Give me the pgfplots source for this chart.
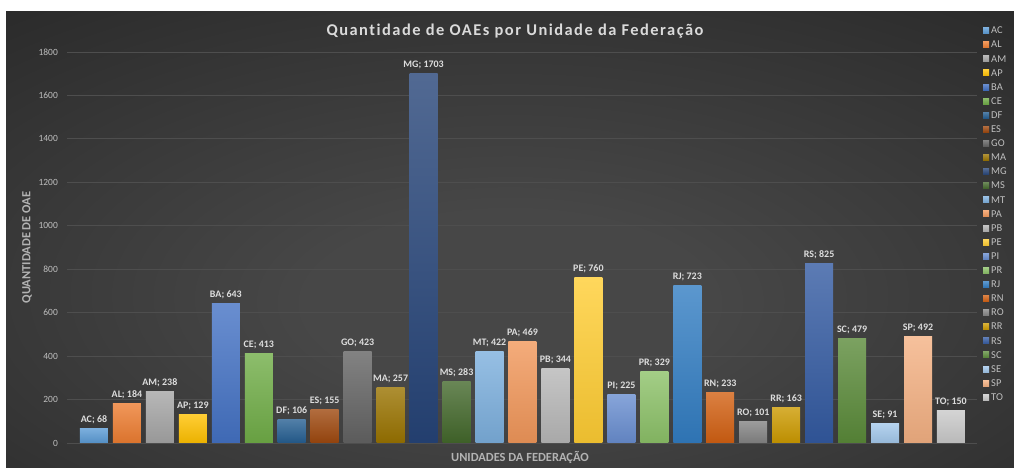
\documentclass[border=0pt]{standalone}
\usepackage{pgfplots}
\pgfplotsset{compat=1.18}
\usepackage{fontspec}
\setmainfont{Carlito}
\newfontfamily\titlefont[LetterSpace=9,Ligatures=NoCommon]{Carlito}
\definecolor{bgin}{HTML}{474747}
\definecolor{bgout}{HTML}{222222}
\definecolor{gridc}{HTML}{4E4E4E}
\definecolor{tickc}{HTML}{BFBFBF}
\definecolor{labc}{HTML}{B3B3B3}
\definecolor{datac}{HTML}{DDDDDD}
\definecolor{titc}{HTML}{DADADA}
\definecolor{cAC}{HTML}{5B9BD5}
\definecolor{cAL}{HTML}{ED7D31}
\definecolor{cAM}{HTML}{A5A5A5}
\definecolor{cAP}{HTML}{FFC000}
\definecolor{cBA}{HTML}{4472C4}
\definecolor{cCE}{HTML}{70AD47}
\definecolor{cDF}{HTML}{255E91}
\definecolor{cES}{HTML}{9E480E}
\definecolor{cGO}{HTML}{636363}
\definecolor{cMA}{HTML}{997300}
\definecolor{cMG}{HTML}{264478}
\definecolor{cMS}{HTML}{43682B}
\definecolor{cMT}{HTML}{7CAFDD}
\definecolor{cPA}{HTML}{F1975A}
\definecolor{cPB}{HTML}{B7B7B7}
\definecolor{cPE}{HTML}{FFCD33}
\definecolor{cPI}{HTML}{698ED0}
\definecolor{cPR}{HTML}{8CC168}
\definecolor{cRJ}{HTML}{327DC2}
\definecolor{cRN}{HTML}{D26012}
\definecolor{cRO}{HTML}{848484}
\definecolor{cRR}{HTML}{CC9A00}
\definecolor{cRS}{HTML}{335AA1}
\definecolor{cSC}{HTML}{5A8A39}
\definecolor{cSE}{HTML}{A3C8EB}
\definecolor{cSP}{HTML}{F4B183}
\definecolor{cTO}{HTML}{C9C9C9}
\pgfdeclareradialshading{chartbg}{\pgfpoint{0bp}{-8bp}}{color(0bp)=(bgin); color(10bp)=(bgin); color(48bp)=(bgout); color(80bp)=(bgout)}
\newcommand{\uf}[4]{%
  \addplot[draw=none, top color=#4!80!white, bottom color=#4!92!black, bar shift=0pt,
    nodes near coords={#1; #3}] coordinates {(#2,#3)};
  \addlegendentry{#1}}
\begin{document}
\begin{tikzpicture}[x=1bp,y=1bp]
\path[use as bounding box] (0,0) rectangle (1014,468);
\fill[white] (0,0) rectangle (1014,468);
\shade[shading=chartbg] (6,0) rectangle (1014,456);
\begin{axis}[
  at={(67bp,25bp)}, anchor=south west, scale only axis,
  width=910bp, height=391bp,
  ybar, bar width=28bp, bar shift=0pt,
  xmin=-0.818, xmax=26.79, ymin=0, ymax=1800,
  ytick={0,200,...,1800}, xtick=\empty,
  ymajorgrids, grid style={gridc, line width=0.8bp},
  axis line style={draw=none}, major tick length=0pt,
  /pgf/number format/assume math mode=true,
  /pgf/number format/1000 sep={},
  yticklabel style={font=\fontsize{9.5}{11}\selectfont, text=tickc, anchor=east, inner sep=0pt, xshift=-9bp},
  clip=false,
  every node near coord/.append style={font=\bfseries\fontsize{10}{12}\selectfont, text=datac, anchor=base, inner sep=0pt, yshift=6bp},
  legend style={at={(1.0066,1.0647)}, anchor=north west, draw=none, fill=none, inner sep=0pt,
    font=\fontsize{10.5}{12}\selectfont, text=tickc, row sep=7.1bp, column sep=2bp,
    nodes={inner sep=0pt, text height=7bp, text depth=0pt}},
  legend cell align=left,
  legend image code/.code={\fill[#1] (0bp,-3.3bp) rectangle (6bp,2.7bp);},
]
\uf{AC}{0}{68}{cAC}
\uf{AL}{1}{184}{cAL}
\uf{AM}{2}{238}{cAM}
\uf{AP}{3}{129}{cAP}
\uf{BA}{4}{643}{cBA}
\uf{CE}{5}{413}{cCE}
\uf{DF}{6}{106}{cDF}
\uf{ES}{7}{155}{cES}
\uf{GO}{8}{423}{cGO}
\uf{MA}{9}{257}{cMA}
\uf{MG}{10}{1703}{cMG}
\uf{MS}{11}{283}{cMS}
\uf{MT}{12}{422}{cMT}
\uf{PA}{13}{469}{cPA}
\uf{PB}{14}{344}{cPB}
\uf{PE}{15}{760}{cPE}
\uf{PI}{16}{225}{cPI}
\uf{PR}{17}{329}{cPR}
\uf{RJ}{18}{723}{cRJ}
\uf{RN}{19}{233}{cRN}
\uf{RO}{20}{101}{cRO}
\uf{RR}{21}{163}{cRR}
\uf{RS}{22}{825}{cRS}
\uf{SC}{23}{479}{cSC}
\uf{SE}{24}{91}{cSE}
\uf{SP}{25}{492}{cSP}
\uf{TO}{26}{150}{cTO}
\end{axis}
\node[font=\titlefont\bfseries\fontsize{16.5}{20}\selectfont, text=titc] at (515,437) {Quantidade de OAEs por Unidade da Federação};
\node[rotate=90, font=\bfseries\fontsize{12.5}{15}\selectfont, text=labc] at (27,220.5) {QUANTIDADE DE OAE};
\node[font=\bfseries\fontsize{12.5}{15}\selectfont, text=labc] at (520,11) {UNIDADES DA FEDERAÇÃO};
\end{tikzpicture}
\end{document}
